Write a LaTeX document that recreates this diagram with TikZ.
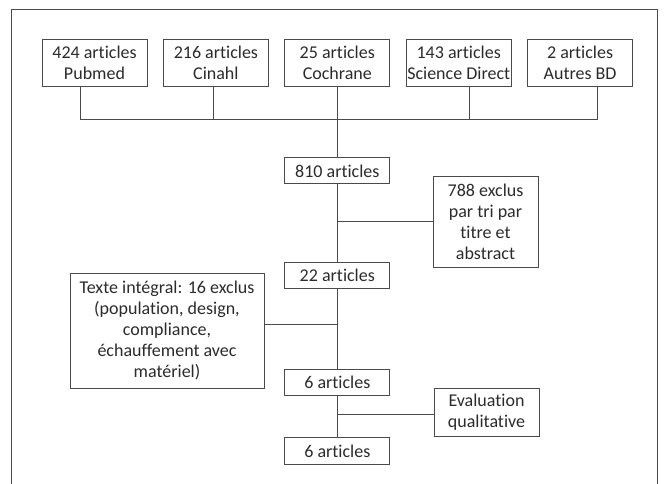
\documentclass[tikz,border=0pt]{standalone}
\usepackage{fontspec}
\setmainfont{Carlito}[Ligatures=NoCommon]
\usetikzlibrary{positioning}
\definecolor{boxline}{HTML}{4A4A4A}
\definecolor{boxtext}{HTML}{2B2B2B}
\tikzset{
  box/.style={draw=boxline, line width=0.9pt, text=boxtext, inner sep=0pt,
    minimum width=105pt, align=center, font=\fontsize{18}{21}\selectfont},
  link/.style={draw=boxline, line width=0.9pt}
}
\begin{document}
\begin{tikzpicture}[x=1pt, y=1pt]
\useasboundingbox (0,0) rectangle (666,-484);

% outer frame, open at the bottom
\draw[boxline, line width=0.9pt] (11.5,-484) -- (11.5,-9.5) -- (657,-9.5) -- (657,-484);

\node[box, minimum height=47pt] (Pubmed) at (94.5,-62.5) {424 articles\\Pubmed};
\node[box, minimum height=47pt, right=15.5pt of Pubmed] (Cinahl) {216 articles\\Cinahl};
\node[box, minimum height=47pt, right=15.5pt of Cinahl] (Cochrane) {25 articles\\Cochrane};
\node[box, minimum height=47pt, right=15.5pt of Cochrane] (SciDirect) {143 articles\\Science Direct};
\node[box, minimum height=47pt, right=15.5pt of SciDirect] (AutresBD) {2 articles\\Autres BD};

\node[box, minimum height=26pt, below=71pt of Cochrane] (A810) {810 articles};
\node[box, minimum height=26pt, below=78pt of A810] (A22) {22 articles};
\node[box, minimum height=26pt, below=80pt of A22] (A6) {6 articles};
\node[box, minimum height=27pt, below=41pt of A6] (A6final) {6 articles};

\node[box, minimum height=91pt] (Excl788) at (485.5,-221.5) {788 exclus\\par tri par\\titre et\\abstract};
\node[box, minimum width=194pt, minimum height=115pt] (Texte) at (167,-330.5)
  {Texte intégral: 16 exclus\\(population, design,\\compliance,\\échauffement avec\\matériel)};
\node[box, minimum height=48pt] (Eval) at (486.5,-412) {Evaluation\\qualitative};

% sources joined on one line
\draw[link] ([xshift=-14.5pt]Pubmed.south) -- ++(0,-33) -| ([xshift=17pt]AutresBD.south);
\draw[link] ([xshift=-2.5pt]Cinahl.south) -- ++(0,-33);
\draw[link] ([xshift=10.5pt]SciDirect.south) -- ++(0,-33);

\draw[link] (Cochrane) -- (A810);
\draw[link] (A810) -- (A22);
\draw[link] (A22) -- (A6);
\draw[link] (A6) -- (A6final);

% exclusions
\draw[link] (Excl788.west) -- (Excl788.west -| A810.south);
\draw[link] ([yshift=6.5pt]Texte.east) -- ([yshift=6.5pt]Texte.east -| A22.south);
\draw[link] ([yshift=-2pt]Eval.west) -- ([yshift=-2pt]Eval.west -| A6.south);

\end{tikzpicture}
\end{document}
